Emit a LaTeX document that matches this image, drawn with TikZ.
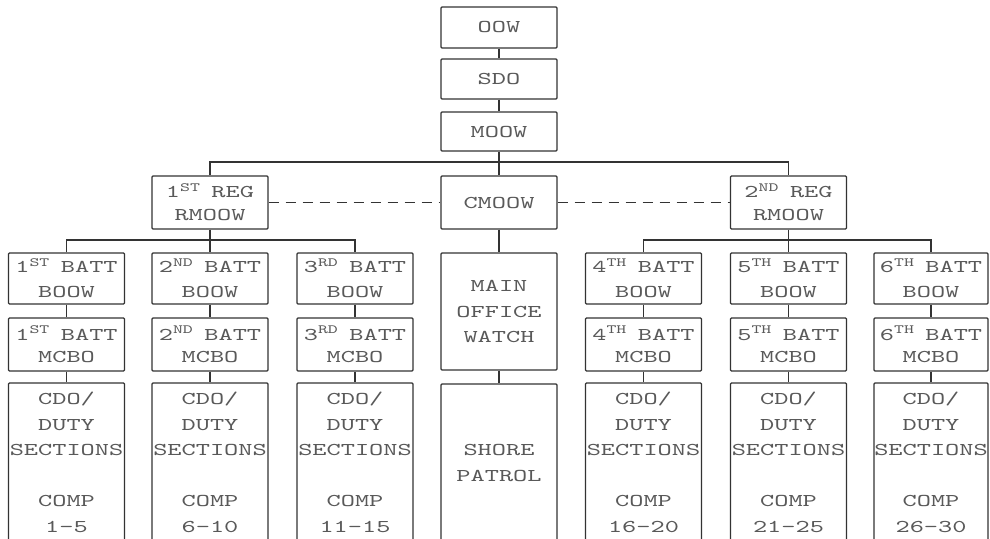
\documentclass[tikz,border=0pt]{standalone}
\usepackage{fontspec}
\newfontfamily\boxfont[FakeStretch=1.5]{lmmono10-regular.otf}
\newcommand\ord[2]{#1\textsuperscript{#2}}
\newcommand\wide[1]{\makebox[0pt]{#1}}
\tikzset{
  box/.style={draw=black!80, line width=1.2pt, rounded corners=1pt, inner sep=0pt,
    align=center, minimum width=116pt, text=black!65,
    font=\boxfont\fontsize{18}{25.5}\selectfont},
  link/.style={draw=black!80, line width=1.2pt},
  peer/.style={draw=black!80, line width=1.2pt, dash pattern=on 10pt off 7pt}
}
\begin{document}
\begin{tikzpicture}[x=1pt,y=-1pt]
\clip (0,0) rectangle (990,538);
\fill[white] (0,0) rectangle (990,538);
% top chain
\node[box, minimum height=41pt] (oow) at (499,27.5) {OOW};
\node[box, minimum height=40pt] (sdo) at (499,79) {SDO};
\node[box, minimum height=39pt] (moow) at (499,131.5) {MOOW};
% regiment level
\node[box, minimum height=53pt] (r1) at (210,202.5) {\ord{1}{ST}\hspace{11pt}REG\\[-2.5pt]RMOOW};
\node[box, minimum height=53pt] (cm) at (499,202.5) {CMOOW};
\node[box, minimum height=53pt] (r2) at (788.5,202.5) {\ord{2}{ND}\hspace{11pt}REG\\[-2.5pt]RMOOW};
% battalion BOOW
\node[box, minimum height=51pt] (b1) at (66.5,278.5) {\wide{\ord{1}{ST}\hspace{11pt}BATT}\\[-0.5pt]BOOW};
\node[box, minimum height=51pt] (b2) at (210,278.5) {\wide{\ord{2}{ND}\hspace{11pt}BATT}\\[-0.5pt]BOOW};
\node[box, minimum height=51pt] (b3) at (355,278.5) {\wide{\ord{3}{RD}\hspace{11pt}BATT}\\[-0.5pt]BOOW};
\node[box, minimum height=51pt] (b4) at (643.5,278.5) {\wide{\ord{4}{TH}\hspace{11pt}BATT}\\[-0.5pt]BOOW};
\node[box, minimum height=51pt] (b5) at (788.5,278.5) {\wide{\ord{5}{TH}\hspace{11pt}BATT}\\[-0.5pt]BOOW};
\node[box, minimum height=51pt, minimum width=114pt] (b6) at (931,278.5) {\wide{\ord{6}{TH}\hspace{11pt}BATT}\\[-0.5pt]BOOW};
% MCBO
\node[box, minimum height=53pt] (m1) at (66.5,344.5) {\wide{\ord{1}{ST}\hspace{11pt}BATT}\\[-3pt]MCBO};
\node[box, minimum height=53pt] (m2) at (210,344.5) {\wide{\ord{2}{ND}\hspace{11pt}BATT}\\[-3pt]MCBO};
\node[box, minimum height=53pt] (m3) at (355,344.5) {\wide{\ord{3}{RD}\hspace{11pt}BATT}\\[-3pt]MCBO};
\node[box, minimum height=53pt] (m4) at (643.5,344.5) {\wide{\ord{4}{TH}\hspace{11pt}BATT}\\[-3pt]MCBO};
\node[box, minimum height=53pt] (m5) at (788.5,344.5) {\wide{\ord{5}{TH}\hspace{11pt}BATT}\\[-3pt]MCBO};
\node[box, minimum height=53pt, minimum width=114pt] (m6) at (931,344.5) {\wide{\ord{6}{TH}\hspace{11pt}BATT}\\[-3pt]MCBO};
% CDO / duty sections
\node[box, minimum height=159pt] (c1) at (66.5,462.5) {CDO/\\DUTY\\\wide{SECTIONS}\\[25.5pt]COMP\\1-5};
\node[box, minimum height=159pt] (c2) at (210,462.5) {CDO/\\DUTY\\\wide{SECTIONS}\\[25.5pt]COMP\\6-10};
\node[box, minimum height=159pt] (c3) at (355,462.5) {CDO/\\DUTY\\\wide{SECTIONS}\\[25.5pt]COMP\\11-15};
\node[box, minimum height=159pt] (c4) at (643.5,462.5) {CDO/\\DUTY\\\wide{SECTIONS}\\[25.5pt]COMP\\16-20};
\node[box, minimum height=159pt] (c5) at (788.5,462.5) {CDO/\\DUTY\\\wide{SECTIONS}\\[25.5pt]COMP\\21-25};
\node[box, minimum height=159pt, minimum width=114pt] (c6) at (931,462.5) {CDO/\\DUTY\\\wide{SECTIONS}\\[25.5pt]COMP\\26-30};
% centre column
\node[box, minimum height=117pt] (mow) at (499,311.5) {MAIN\\OFFICE\\WATCH};
\node[box, minimum height=158pt] (sp) at (499,463) {SHORE\\PATROL};
% junctions
\coordinate (j1) at (499,162);
\coordinate (j2) at (210,240);
\coordinate (j3) at (788.5,240);
% connectors
\draw[link] (oow) -- (sdo);
\draw[link] (sdo) -- (moow);
\draw[link] (moow) -- (cm);
\draw[link] (r1.north) |- (j1) -| (r2.north);
\draw[peer] (r1) -- (cm);
\draw[peer] (cm) -- (r2);
\draw[link] (cm) -- (mow);
\draw[link] (mow) -- (sp);
\draw[link] (r1) -- (b2);
\draw[link] (b1.north) |- (j2) -| (b3.north);
\draw[link] (r2) -- (b5);
\draw[link] (b4.north) |- (j3) -| (b6.north);
\foreach \i in {1,...,6}{
  \draw[link] (b\i) -- (m\i);
  \draw[link] (m\i) -- (c\i);
}
\end{tikzpicture}
\end{document}
